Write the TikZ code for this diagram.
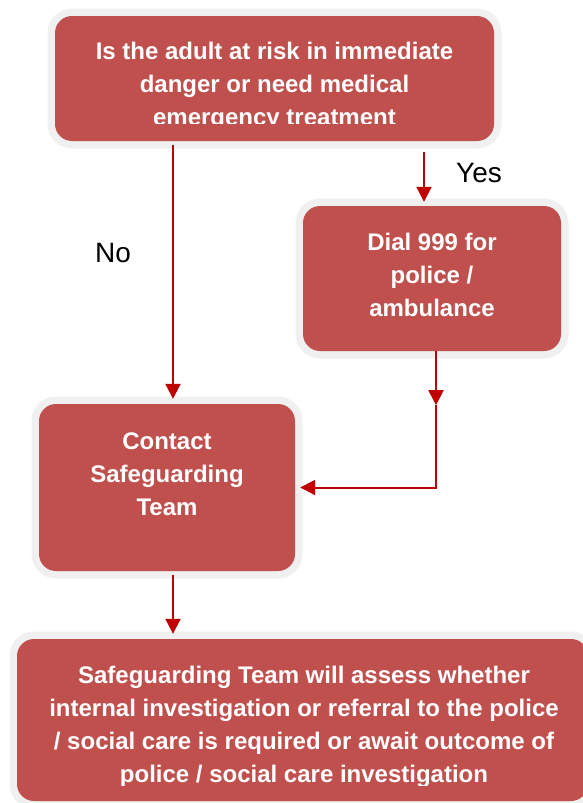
\documentclass[tikz,border=0pt]{standalone}
\usepackage{fontspec}
\setmainfont{Liberation Sans}
\usepackage{xcolor}
\usepackage{tikz}
\usetikzlibrary{arrows.meta, calc, positioning}

\definecolor{boxred}{HTML}{C0504D}
\definecolor{halo}{HTML}{F0F0F0}
\definecolor{arrowred}{HTML}{C00000}

\begin{document}
\begin{tikzpicture}[
    x=1pt, y=-1pt,
    box/.style={rectangle, fill=boxred, rounded corners=17pt, inner sep=0pt, preaction={draw=halo, line width=15pt}},
    boxtext/.style={text=white, font=\bfseries\fontsize{24}{33}\selectfont, align=center, inner sep=0pt},
    lbl/.style={font=\fontsize{28}{34}\selectfont, inner sep=0pt, anchor=base west},
    line/.style={draw=arrowred, line width=2pt},
    arr/.style={line, -{Triangle[width=15pt, length=15pt]}}
]
    \useasboundingbox (0,0) rectangle (583,803);

    % Nodes
    % Question on top
    \node [box, minimum width=439pt, minimum height=125pt] (question) at (274.5,78.5) {};
    \begin{scope}
        \clip (question.north west) rectangle ([yshift=-108pt]question.north east);
        \node [boxtext] (question-text) at (274.5,86.8) {Is the adult at risk in immediate\\danger or need medical\\emergency treatment};
    \end{scope}

    % Emergency call on the right
    \node [box, minimum width=258pt, minimum height=145pt] (dial) at (432,278.5) {};
    \node [boxtext] (dial-text) at (432,275.3) {Dial 999 for\\police /\\ambulance};

    % Safeguarding contact on the left
    \node [box, minimum width=256pt, minimum height=167pt] (contact) at (167,487.5) {};
    \node [boxtext] (contact-text) at (167,474.3) {Contact\\Safeguarding\\Team};

    % Outcome at the bottom
    \node [box, minimum width=571pt, minimum height=162pt] (team) at (302.5,720) {};
    \begin{scope}
        \clip (team.north west) rectangle ([yshift=-147pt]team.north east);
        \node [boxtext] (team-text) at (304,727.2) {Safeguarding Team will assess whether\\internal investigation or referral to the police\\/ social care is required or await outcome of\\police / social care investigation};
    \end{scope}

    % Labels
    \node [lbl] (yes) at (456,182) {Yes};
    \node [lbl] (no) at (95,262) {No};

    % Connections
    % Question to contact (No)
    \draw [arr, shorten <=4pt, shorten >=5pt] ([xshift=6pt]contact.north |- question.south) -- ([xshift=6pt]contact.north);

    % Question to dial (Yes)
    \draw [arr, shorten <=11pt, shorten >=4pt] ([xshift=-8pt]dial.north |- question.south) -- ([xshift=-8pt]dial.north);

    % Dial back to contact
    \coordinate (bend) at ([xshift=4pt, yshift=-54pt]dial.south);
    \draw [arr] ([xshift=4pt]dial.south) -- (bend);
    \draw [arr, shorten >=5pt] (bend) |- (contact.east);

    % Contact to outcome
    \draw [arr, shorten <=4pt, shorten >=5pt] ([xshift=6pt]contact.south) -- ([xshift=6pt]contact.south |- team.north);

\end{tikzpicture}
\end{document}
